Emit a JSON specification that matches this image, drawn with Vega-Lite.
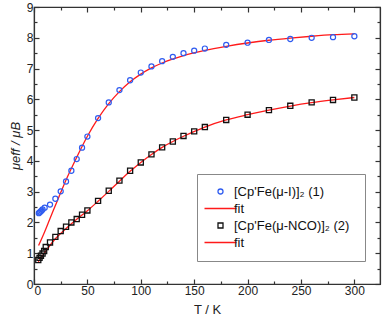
{
  "$schema": "https://vega.github.io/schema/vega-lite/v6.json",
  "width": 346,
  "height": 277,
  "autosize": "none",
  "padding": {"left": 34, "top": 7, "right": 2, "bottom": 40},
  "background": "white",
  "config": {
    "view": {"stroke": "#333", "strokeWidth": 1.2},
    "font": "Liberation Sans",
    "axis": {
      "domainColor": "#333", "domainWidth": 1.2, "tickColor": "#333", "tickWidth": 1.2,
      "labelColor": "#222", "titleColor": "#222", "grid": false,
      "labelFont": "Liberation Sans", "labelFontSize": 12,
      "titleFont": "Liberation Sans", "titleFontWeight": "normal", "titleFontSize": 13
    }
  },
  "datasets": {
    "pts": [
      {"T": 4.5, "v": 2.30, "s": "c1"}, {"T": 5.2, "v": 2.32, "s": "c1"}, {"T": 6, "v": 2.35, "s": "c1"},
      {"T": 7, "v": 2.38, "s": "c1"}, {"T": 8, "v": 2.42, "s": "c1"}, {"T": 10, "v": 2.48, "s": "c1"},
      {"T": 15, "v": 2.58, "s": "c1"}, {"T": 20, "v": 2.77, "s": "c1"}, {"T": 25, "v": 3.01, "s": "c1"},
      {"T": 30, "v": 3.33, "s": "c1"}, {"T": 35, "v": 3.68, "s": "c1"}, {"T": 40, "v": 4.06, "s": "c1"},
      {"T": 45, "v": 4.43, "s": "c1"}, {"T": 50, "v": 4.79, "s": "c1"}, {"T": 60, "v": 5.39, "s": "c1"},
      {"T": 70, "v": 5.90, "s": "c1"}, {"T": 80, "v": 6.30, "s": "c1"}, {"T": 90, "v": 6.62, "s": "c1"},
      {"T": 100, "v": 6.87, "s": "c1"}, {"T": 110, "v": 7.07, "s": "c1"}, {"T": 120, "v": 7.24, "s": "c1"},
      {"T": 130, "v": 7.38, "s": "c1"}, {"T": 140, "v": 7.50, "s": "c1"}, {"T": 150, "v": 7.58, "s": "c1"},
      {"T": 160, "v": 7.65, "s": "c1"}, {"T": 180, "v": 7.77, "s": "c1"}, {"T": 200, "v": 7.84, "s": "c1"},
      {"T": 220, "v": 7.93, "s": "c1"}, {"T": 240, "v": 7.96, "s": "c1"}, {"T": 260, "v": 8.00, "s": "c1"},
      {"T": 280, "v": 8.02, "s": "c1"}, {"T": 300, "v": 8.05, "s": "c1"},
      {"T": 4, "v": 0.78, "s": "c2"}, {"T": 5.2, "v": 0.85, "s": "c2"}, {"T": 6.5, "v": 0.92, "s": "c2"},
      {"T": 8, "v": 0.99, "s": "c2"}, {"T": 9.5, "v": 1.07, "s": "c2"}, {"T": 11, "v": 1.20, "s": "c2"},
      {"T": 15, "v": 1.35, "s": "c2"}, {"T": 20, "v": 1.53, "s": "c2"}, {"T": 25, "v": 1.72, "s": "c2"},
      {"T": 30, "v": 1.86, "s": "c2"}, {"T": 35, "v": 2.00, "s": "c2"}, {"T": 40, "v": 2.11, "s": "c2"},
      {"T": 45, "v": 2.25, "s": "c2"}, {"T": 50, "v": 2.39, "s": "c2"}, {"T": 60, "v": 2.70, "s": "c2"},
      {"T": 70, "v": 3.03, "s": "c2"}, {"T": 80, "v": 3.36, "s": "c2"}, {"T": 90, "v": 3.68, "s": "c2"},
      {"T": 100, "v": 3.95, "s": "c2"}, {"T": 110, "v": 4.21, "s": "c2"}, {"T": 120, "v": 4.44, "s": "c2"},
      {"T": 130, "v": 4.63, "s": "c2"}, {"T": 140, "v": 4.81, "s": "c2"}, {"T": 150, "v": 4.96, "s": "c2"},
      {"T": 160, "v": 5.10, "s": "c2"}, {"T": 180, "v": 5.33, "s": "c2"}, {"T": 200, "v": 5.50, "s": "c2"},
      {"T": 220, "v": 5.65, "s": "c2"}, {"T": 240, "v": 5.79, "s": "c2"}, {"T": 260, "v": 5.90, "s": "c2"},
      {"T": 280, "v": 5.98, "s": "c2"}, {"T": 300, "v": 6.06, "s": "c2"}
    ],
    "fits": [
      {"T": 4.3, "v": 1.25, "s": "f1"}, {"T": 10, "v": 1.70, "s": "f1"}, {"T": 15, "v": 2.13, "s": "f1"},
      {"T": 20, "v": 2.55, "s": "f1"}, {"T": 25, "v": 2.97, "s": "f1"}, {"T": 30, "v": 3.38, "s": "f1"},
      {"T": 35, "v": 3.75, "s": "f1"}, {"T": 40, "v": 4.12, "s": "f1"}, {"T": 45, "v": 4.47, "s": "f1"},
      {"T": 50, "v": 4.80, "s": "f1"}, {"T": 60, "v": 5.38, "s": "f1"}, {"T": 70, "v": 5.86, "s": "f1"},
      {"T": 80, "v": 6.25, "s": "f1"}, {"T": 90, "v": 6.57, "s": "f1"}, {"T": 100, "v": 6.82, "s": "f1"},
      {"T": 110, "v": 7.02, "s": "f1"}, {"T": 120, "v": 7.18, "s": "f1"}, {"T": 140, "v": 7.42, "s": "f1"},
      {"T": 160, "v": 7.59, "s": "f1"}, {"T": 180, "v": 7.72, "s": "f1"}, {"T": 200, "v": 7.83, "s": "f1"},
      {"T": 220, "v": 7.92, "s": "f1"}, {"T": 240, "v": 7.99, "s": "f1"}, {"T": 260, "v": 8.05, "s": "f1"},
      {"T": 280, "v": 8.10, "s": "f1"}, {"T": 300, "v": 8.13, "s": "f1"},
      {"T": 4, "v": 0.72, "s": "f2"}, {"T": 10, "v": 1.02, "s": "f2"}, {"T": 20, "v": 1.47, "s": "f2"},
      {"T": 30, "v": 1.80, "s": "f2"}, {"T": 40, "v": 2.10, "s": "f2"}, {"T": 50, "v": 2.38, "s": "f2"},
      {"T": 60, "v": 2.69, "s": "f2"}, {"T": 70, "v": 3.01, "s": "f2"}, {"T": 80, "v": 3.34, "s": "f2"},
      {"T": 90, "v": 3.66, "s": "f2"}, {"T": 100, "v": 3.95, "s": "f2"}, {"T": 110, "v": 4.21, "s": "f2"},
      {"T": 120, "v": 4.44, "s": "f2"}, {"T": 130, "v": 4.63, "s": "f2"}, {"T": 140, "v": 4.80, "s": "f2"},
      {"T": 160, "v": 5.10, "s": "f2"}, {"T": 180, "v": 5.33, "s": "f2"}, {"T": 200, "v": 5.50, "s": "f2"},
      {"T": 220, "v": 5.65, "s": "f2"}, {"T": 240, "v": 5.78, "s": "f2"}, {"T": 260, "v": 5.89, "s": "f2"},
      {"T": 280, "v": 5.98, "s": "f2"}, {"T": 300, "v": 6.06, "s": "f2"}
    ]
  },
  "layer": [
    {
      "data": {"name": "fits"},
      "transform": [{"filter": "datum.s == 'f1'"}],
      "mark": {"type": "line", "strokeWidth": 1.3, "interpolate": "monotone"},
      "encoding": {
        "x": {"field": "T", "type": "quantitative", "scale": {"domain": [0, 324], "nice": false, "zero": false},
          "axis": {"orient": "bottom", "values": [25, 75, 125, 175, 225, 275], "labels": false, "tickSize": -3, "title": null, "domain": false}},
        "y": {"field": "v", "type": "quantitative", "scale": {"domain": [0, 9], "nice": false},
          "axis": {"orient": "left", "values": [0.5, 1.5, 2.5, 3.5, 4.5, 5.5, 6.5, 7.5, 8.5], "labels": false, "tickSize": -3, "title": null, "domain": false}},
        "color": {"field": "s", "type": "nominal"}
      }
    },
    {
      "data": {"name": "fits"},
      "transform": [{"filter": "datum.s == 'f2'"}],
      "mark": {"type": "line", "strokeWidth": 1.3, "interpolate": "monotone"},
      "encoding": {
        "x": {"field": "T", "type": "quantitative",
          "axis": {"orient": "top", "values": [25, 75, 125, 175, 225, 275], "labels": false, "tickSize": -3, "title": null, "domain": false}},
        "y": {"field": "v", "type": "quantitative",
          "axis": {"orient": "right", "values": [0.5, 1.5, 2.5, 3.5, 4.5, 5.5, 6.5, 7.5, 8.5], "labels": false, "tickSize": -3, "title": null, "domain": false}},
        "color": {"field": "s", "type": "nominal"}
      }
    },
    {
      "data": {"name": "pts"},
      "transform": [{"filter": "datum.s == 'c1'"}],
      "mark": {"type": "point", "filled": false, "size": 26, "strokeWidth": 1.2, "opacity": 1},
      "encoding": {
        "x": {"field": "T", "type": "quantitative",
          "axis": {"orient": "bottom", "values": [0, 50, 100, 150, 200, 250, 300], "tickSize": -5, "labelPadding": 6, "title": "T / K", "titlePadding": 7}},
        "y": {"field": "v", "type": "quantitative",
          "axis": {"orient": "left", "values": [0, 1, 2, 3, 4, 5, 6, 7, 8, 9], "tickSize": -5, "labelPadding": 6, "title": "μeff / μB", "titleFontStyle": "italic", "titlePadding": 4}},
        "color": {"field": "s", "type": "nominal"},
        "shape": {"field": "s", "type": "nominal"}
      }
    },
    {
      "data": {"name": "pts"},
      "transform": [{"filter": "datum.s == 'c2'"}],
      "mark": {"type": "point", "filled": false, "size": 26, "strokeWidth": 1.3, "opacity": 1},
      "encoding": {
        "x": {"field": "T", "type": "quantitative",
          "axis": {"orient": "top", "values": [0, 50, 100, 150, 200, 250, 300], "tickSize": -5, "labels": false, "title": null}},
        "y": {"field": "v", "type": "quantitative",
          "axis": {"orient": "right", "values": [0, 1, 2, 3, 4, 5, 6, 7, 8, 9], "tickSize": -5, "labels": false, "title": null}},
        "shape": {"field": "s", "type": "nominal",
          "scale": {"domain": ["c1", "f1", "c2", "f2"], "range": ["circle", "M-6.4,0H6.4", "square", "M-6.4,0H6.4"]},
          "legend": null},
        "color": {"field": "s", "type": "nominal",
          "scale": {"domain": ["c1", "f1", "c2", "f2"], "range": ["#2f5cf0", "#ff1a1a", "#111111", "#ff1a1a"]},
          "legend": {
            "orient": "none", "legendX": 163, "legendY": 167, "title": null,
            "strokeColor": "#888", "fillColor": "white", "padding": 11,
            "rowPadding": 3, "symbolSize": 25, "symbolOffset": 6, "labelOffset": 7,
            "symbolFillColor": "transparent", "symbolStrokeWidth": 1.3,
            "labelFont": "Liberation Sans", "labelFontSize": 13, "labelColor": "#111", "labelLimit": 300,
            "labelExpr": "datum.value == 'c1' ? \"[Cp'Fe(μ-I)]₂  (1)\" : datum.value == 'c2' ? \"[Cp'Fe(μ-NCO)]₂  (2)\" : \"\u00a0\u00a0fit\"",
            "encode": {
              "symbols": {
                "update": {
                  "shape": {"scale": "shape", "field": "value"},
                  "fill": {"value": "transparent"},
                  "stroke": {"scale": "color", "field": "value"},
                  "strokeWidth": {"value": 1.3},
                  "opacity": {"value": 1}
                }
              }
            }
          }
        }
      }
    }
  ],
  "resolve": {"axis": {"x": "independent", "y": "independent"}}
}
